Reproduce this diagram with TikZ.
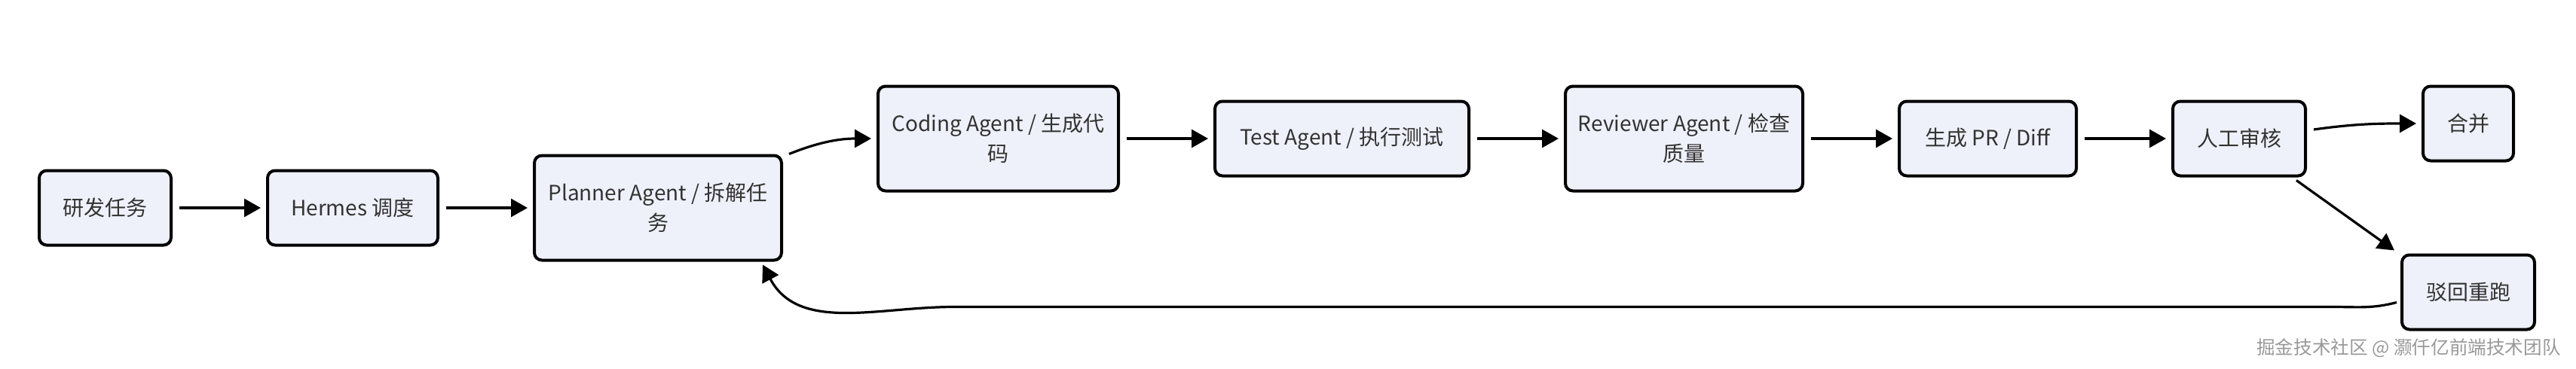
\documentclass[tikz,border=0pt]{standalone}
\usepackage{fontspec}
\newfontfamily\cjkfont{Noto Sans CJK SC}
\usepackage{tikz}
\usetikzlibrary{positioning,arrows.meta}
\definecolor{boxfill}{RGB}{238,241,250}
\definecolor{boxtext}{RGB}{51,51,51}

\begin{document}
\begin{tikzpicture}[x=1pt, y=1pt, node distance=62pt]
          \tikzset{BoxStyle/.style={draw, line width=2pt, rounded corners=5pt, fill=boxfill,
              text=boxtext, align=center, inner sep=2pt, minimum height=49.5pt,
              font={\cjkfont\fontsize{14pt}{20pt}\selectfont}}}
          \tikzset{TallStyle/.style={BoxStyle, minimum height=69.5pt}}
          \tikzset{ArrowStyle/.style={-{Triangle[length=11pt,width=12pt]}, line width=1.6pt,
              shorten <=4.5pt, shorten >=3.5pt}}

          \useasboundingbox (0,0) rectangle (1709,-244.5);

          \node[BoxStyle, minimum width=87.5pt] (task) at (69.75,-138) {研发任务};
          \node[BoxStyle, minimum width=113pt, right=of task] (hermes) {Hermes 调度};
          \node[TallStyle, minimum width=164pt, right=of hermes] (planner) {Planner Agent / 拆解任\\务};
          \node[TallStyle, minimum width=159.5pt, right=of planner, yshift=46pt] (coding) {Coding Agent / 生成代\\码};
          \node[BoxStyle, minimum width=168.5pt, right=of coding] (test) {Test Agent / 执行测试};
          \node[TallStyle, minimum width=157.5pt, right=of test] (reviewer) {Reviewer Agent / 检查\\质量};
          \node[BoxStyle, minimum width=117.5pt, right=of reviewer] (pr) {生成 PR / Diff};
          \node[BoxStyle, minimum width=88pt, right=of pr] (review) {人工审核};
          \node[BoxStyle, minimum width=60pt, right=76pt of review, yshift=10pt] (merge) {合并};
          \node[BoxStyle, minimum width=88pt, right=of review, yshift=-102pt] (rerun) {驳回重跑};

          \draw[ArrowStyle] (task) -- (hermes);
          \draw[ArrowStyle] (hermes) -- (planner);
          \draw[ArrowStyle, shorten <=0pt] ([xshift=4pt]planner.north east) to[out=22,in=180] (coding.west);
          \draw[ArrowStyle] (coding) -- (test);
          \draw[ArrowStyle] (test) -- (reviewer);
          \draw[ArrowStyle] (reviewer) -- (pr);
          \draw[ArrowStyle] (pr) -- (review);
          \draw[ArrowStyle, shorten <=0pt] ([xshift=4.5pt,yshift=6pt]review.east) to[out=8,in=180] (merge.west);
          \draw[ArrowStyle, shorten <=0pt, shorten >=0pt] ([xshift=-7pt,yshift=-2pt]review.south east)
              -- ([xshift=-4pt,yshift=2pt]rerun.north west);
          \draw[ArrowStyle, shorten <=0pt, shorten >=0pt] ([xshift=-2.5pt,yshift=-6.75pt]rerun.west)
              to[out=195,in=0] ([xshift=-45pt,yshift=-9.75pt]rerun.west)
              -- ([xshift=113.5pt,yshift=-30pt]planner.south east)
              to[out=180,in=-62] ([xshift=-13.5pt,yshift=-2pt]planner.south east);

          % watermark
          \node[text=black!40, font={\cjkfont\fontsize{12.3pt}{14pt}\selectfont}] (mark) at (1598,-231) {掘金技术社区 @ 灏仟亿前端技术团队};
        \end{tikzpicture}
\end{document}
